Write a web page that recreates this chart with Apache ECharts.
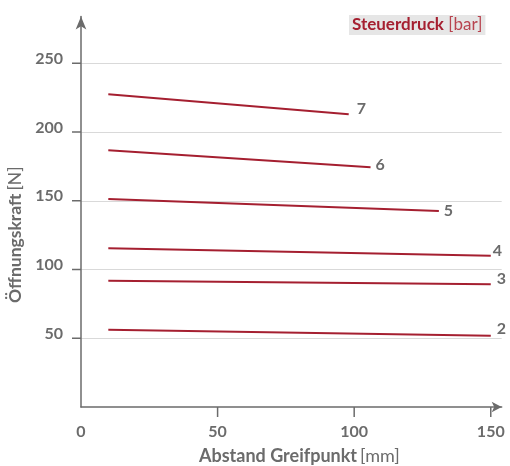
<!DOCTYPE html>
<html><head><meta charset="utf-8">
<script src="https://cdn.jsdelivr.net/npm/echarts@6/dist/echarts.min.js"></script>
<style>html,body{margin:0;padding:0;background:#fff}#c{width:510px;height:466px}</style>
</head><body><div id="c"></div>
<script>
// Steuerdruck [bar] per curve
const pressures = ['2', '3', '4', '5', '6', '7'];
// Abstand Greifpunkt [mm] at start / end of each curve
const distStart = [10, 10, 10, 10, 10, 10];
const distEnd = [150, 150, 150, 131, 106, 98];
// Öffnungskraft [N] at start / end of each curve
const forceStart = [56.2, 91.9, 115.4, 151.3, 186.7, 227.4];
const forceEnd = [51.8, 89.2, 110.0, 142.5, 174.3, 212.9];
// tick labels / tick marks
const yTickValues = [50, 100, 150, 200, 250];
const xTickValues = [0, 50, 100, 150];
const xTickMarks = [50, 100, 150];

const FONT = 'Lato, "Open Sans", sans-serif';
const GREY = '#6b6b6b';
const RED = '#a51f30';
// label offsets per curve (layout only)
const labelOffsets = [[-2, -7], [-2, -6], [-6, -5], [-3, 0], [-3, -2], [0, -5]];

const series = pressures.map((p, i) => ({
  type: 'line',
  name: p,
  symbol: 'none',
  silent: true,
  data: [[distStart[i], forceStart[i]], [distEnd[i], forceEnd[i]]],
  lineStyle: { color: RED, width: 2 },
  endLabel: {
    show: true,
    formatter: p,
    color: GREY,
    fontFamily: FONT,
    fontWeight: 'bold',
    fontSize: 16,
    distance: 8,
    offset: labelOffsets[i]
  }
}));

// axis tick marks drawn through the axis scales
series.push({
  type: 'custom',
  silent: true,
  data: yTickValues.map(v => [0, v]),
  encode: { x: 0, y: 1 },
  renderItem: (params, api) => {
    const p = api.coord([api.value(0), api.value(1)]);
    return { type: 'line', shape: { x1: p[0] - 9, y1: p[1], x2: p[0], y2: p[1] }, style: { stroke: GREY, lineWidth: 1.5 } };
  }
});
series.push({
  type: 'custom',
  silent: true,
  data: xTickMarks.map(v => [v, 0]),
  encode: { x: 0, y: 1 },
  renderItem: (params, api) => {
    const p = api.coord([api.value(0), api.value(1)]);
    return { type: 'line', shape: { x1: p[0], y1: p[1], x2: p[0], y2: p[1] + 10 }, style: { stroke: GREY, lineWidth: 1.5 } };
  }
});

const chart = echarts.init(document.getElementById('c'), null, { renderer: 'canvas' });
chart.setOption({
  animation: false,
  backgroundColor: '#fff',
  textStyle: { fontFamily: FONT },
  title: {
    text: '{b|Steuerdruck} {n|[bar]}',
    left: 349, top: 15,
    backgroundColor: '#e6e6e6',
    padding: [1, 3, 1, 3],
    textStyle: {
      rich: {
        b: { color: RED, fontWeight: 'bold', fontSize: 17, fontFamily: FONT },
        n: { color: '#b8434f', fontWeight: 'normal', fontSize: 17, fontFamily: FONT }
      }
    }
  },
  grid: { left: 81, right: 8.3, top: 16.5, bottom: 59, containLabel: false, outerBoundsMode: 'none' },
  xAxis: {
    type: 'value', min: 0, max: 154,
    name: '{b|Abstand Greifpunkt} {n|[mm]}',
    nameLocation: 'middle', nameGap: 40,
    nameTextStyle: {
      padding: [0, 0, 0, 16],
      rich: {
        b: { color: GREY, fontWeight: 'bold', fontSize: 18, fontFamily: FONT },
        n: { color: GREY, fontWeight: 'normal', fontSize: 18, fontFamily: FONT }
      }
    },
    axisLine: { show: true, symbol: ['none', 'arrow'], symbolSize: [8, 10], lineStyle: { color: GREY, width: 1.5 } },
    axisTick: { show: false },
    axisLabel: { customValues: xTickValues, margin: 17, color: GREY, fontWeight: 'bold', fontSize: 16, fontFamily: FONT },
    splitLine: { show: false }
  },
  yAxis: {
    type: 'value', min: 0, max: 284,
    name: '{b|Öffnungskraft} {n|[N]}',
    nameLocation: 'middle', nameGap: 57, nameRotate: 90,
    nameTextStyle: {
      padding: [0, 46, 0, 0],
      rich: {
        b: { color: GREY, fontWeight: 'bold', fontSize: 17.5, fontFamily: FONT },
        n: { color: GREY, fontWeight: 'normal', fontSize: 17.5, fontFamily: FONT }
      }
    },
    axisLine: { show: true, symbol: ['none', 'arrow'], symbolSize: [8, 13], lineStyle: { color: GREY, width: 1.5 } },
    axisTick: { show: false, customValues: yTickValues },
    axisLabel: { customValues: yTickValues, margin: 18, verticalAlign: 'bottom', lineHeight: 9, color: GREY, fontWeight: 'bold', fontSize: 16, fontFamily: FONT },
    splitLine: { show: true, lineStyle: { color: '#d9d9d9', width: 1 } }
  },
  series: series
});
</script></body></html>
